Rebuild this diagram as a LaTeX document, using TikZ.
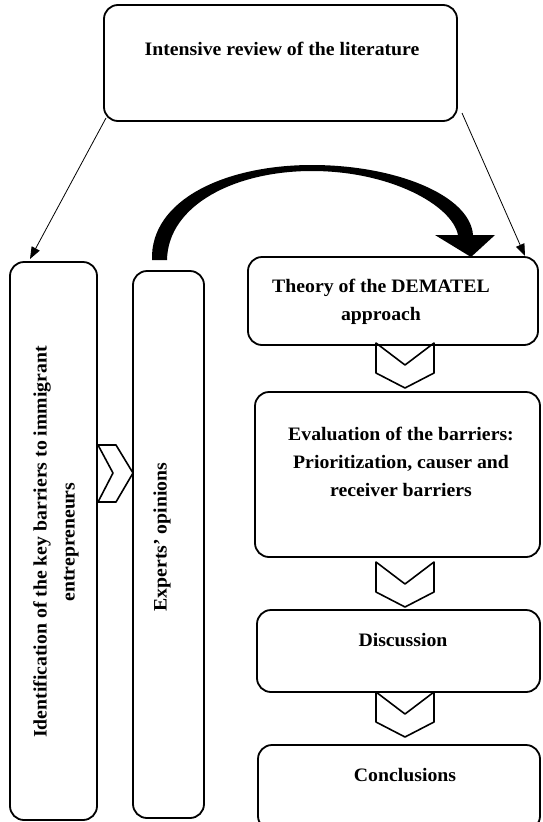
\documentclass[tikz,border=0pt]{standalone}
\usepackage{fontspec}
\setmainfont{Liberation Serif}[FakeStretch=1.04]
\usetikzlibrary{arrows.meta}
\begin{document}
\begin{tikzpicture}[x=1pt,y=-1pt,line join=round]
\tikzset{
  box/.style={draw,line width=1.8pt,rounded corners=14pt,inner sep=0pt},
  lbl/.style={font=\fontsize{19}{28}\selectfont\bfseries,align=center,inner sep=0pt},
  chev/.style={draw,line width=1.6pt},
  thinarrow/.style={line width=0.8pt,-{Triangle[length=12pt,width=9pt]}},
  chevdown/.pic={\draw[chev] (-29,0) -- (0,22) -- (29,0) -- (29,30) -- (0,45) -- (-29,30) -- cycle;}
}
\path[use as bounding box] (0,0) rectangle (542,822);

% boxes
\node[box,minimum width=353pt,minimum height=116pt] (top) at (280.5,63) {};
\node[box,minimum width=87pt,minimum height=558pt] (ident) at (53.5,541) {};
\node[box,minimum width=71pt,minimum height=547pt] (experts) at (168.5,544.5) {};
\node[box,minimum width=290pt,minimum height=88pt] (theory) at (393,301) {};
\node[box,minimum width=285pt,minimum height=165pt] (eval) at (397.5,474.5) {};
\node[box,minimum width=283pt,minimum height=82pt] (disc) at (398.5,651) {};
\node[box,minimum width=282pt,minimum height=85pt] (concl) at (399,787.5) {};

% texts
\node[lbl] (ttop) at (282,49) {Intensive review of the literature};
\node[lbl] (ttheory) at (381,302) {Theory of the DEMATEL\\approach};
\node[lbl] (teval) at (401,462) {Evaluation of the barriers:\\Prioritization, causer and\\receiver barriers};
\node[lbl] (tdisc) at (403,640) {Discussion};
\node[lbl] (tconcl) at (405,775) {Conclusions};
\node[lbl,rotate=90] (tident) at (56,542) {Identification of the key barriers to immigrant\\entrepreneurs};
\node[lbl,rotate=90] (texperts) at (162,537) {Experts’ opinions};

% thin arrows
\coordinate (s1) at (106,118);
\coordinate (e1) at (30,259);
\coordinate (s2) at (462,113);
\coordinate (e2) at (525,256);
\draw[thinarrow] (s1) -- (e1);
\draw[thinarrow] (s2) -- (e2);

% big curved arrow
\fill (152,260) .. controls (150,200) and (225,165) .. (312,165)
  .. controls (395,165) and (470,195) .. (473,235) -- (495,235) -- (471,257) -- (435,235) -- (458,235)
  .. controls (452,205) and (390,171) .. (312,171)
  .. controls (235,171) and (168,205) .. (167,260) -- cycle;

% chevrons
\pic at (405,343) {chevdown};
\pic at (405,562) {chevdown};
\pic at (405,692) {chevdown};
\draw[chev] (98,445) -- (116,445) -- (133,473) -- (116,502) -- (98,502) -- (113,473) -- cycle;
\end{tikzpicture}
\end{document}
